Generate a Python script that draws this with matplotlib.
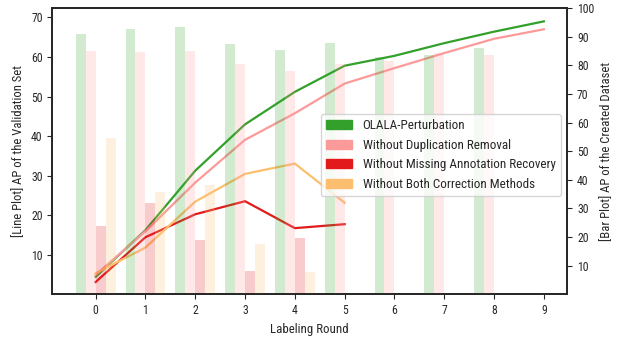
import matplotlib
matplotlib.use("Agg")
import matplotlib.pyplot as plt
from matplotlib.patches import Patch
import numpy as np

plt.rcParams['font.family'] = ['Roboto Condensed', 'Roboto', 'DejaVu Sans']
plt.rcParams['axes.edgecolor'] = '0.15'
plt.rcParams['axes.linewidth'] = 1.25
plt.rcParams['xtick.color'] = '0.15'
plt.rcParams['ytick.color'] = '0.15'
plt.rcParams['text.color'] = '0.15'
plt.rcParams['axes.labelcolor'] = '0.15'

# Series names and colours
names = ["OLALA-Perturbation", "Without Duplication Removal",
         "Without Missing Annotation Recovery", "Without Both Correction Methods"]
colors = ["#33a02c", "#fb9a99", "#e31a1c", "#fdbf6f"]

# Line plot: AP on the validation set (left axis)
line_olala = [4.5, 16.3, 31.3, 43.0, 51.2, 57.8, 60.3, 63.5, 66.4, 69.0]
line_nodup = [5.0, 16.0, 28.3, 39.1, 45.8, 53.3, 57.2, 61.0, 64.6, 67.0]
line_nomiss = [3.2, 14.5, 20.3, 23.6, 16.8, 17.8]
line_noboth = [5.4, 11.9, 23.5, 30.5, 33.1, 23.2]

# Bar plot: AP of the created dataset (right axis)
bar_olala = [90.9, 92.7, 93.4, 87.4, 85.4, 87.8, 82.8, 83.6, 86.0]
bar_nodup = [85.0, 84.7, 85.0, 80.5, 78.0, 80.5, 81.7, 84.2, 83.6]
bar_nomiss = [24.0, 32.0, 19.1, 8.3, 19.8]
bar_noboth = [54.6, 35.8, 38.3, 17.7, 7.9]

lines = [line_olala, line_nodup, line_nomiss, line_noboth]
bars = [bar_olala, bar_nodup, bar_nomiss, bar_noboth]
offsets = [-0.3, -0.1, 0.1, 0.3]
width = 0.2

fig = plt.figure(figsize=(6.21, 3.37), dpi=100)
ax = fig.add_axes([0.0842, 0.1267, 0.9135 - 0.0842, 0.9754 - 0.1267])
ax2 = ax.twinx()

for vals, c in zip(lines, colors):
    x = np.arange(len(vals))
    ax.plot(x, vals, color=c, lw=1.6)

for vals, c, off in zip(bars, colors, offsets):
    x = np.arange(len(vals)) + off
    ax2.bar(x, vals, width=width, color=c, alpha=0.22, linewidth=0)

ax.set_ylim(0.1, 72.3)
ax.set_yticks(np.arange(10, 71, 10))
ax2.set_ylim(0, 100)
ax2.set_yticks(np.arange(10, 101, 10))
ax.set_xticks(np.arange(0, 10))

ax.tick_params(labelsize=8.5)
ax2.tick_params(labelsize=8.5)
ax.set_xlabel("Labeling Round", fontsize=9.3)
ax.set_ylabel("[Line Plot] AP of the Validation Set", fontsize=9.1)
ax2.set_ylabel("[Bar Plot] AP of the Created Dataset", fontsize=9.1)

handles = [Patch(facecolor=c, edgecolor=c) for c in colors]
ax2.legend(handles, names, loc='center right', bbox_to_anchor=(1.0, 0.487),
           fontsize=9.4)

fig.savefig("out.png", dpi=100)
